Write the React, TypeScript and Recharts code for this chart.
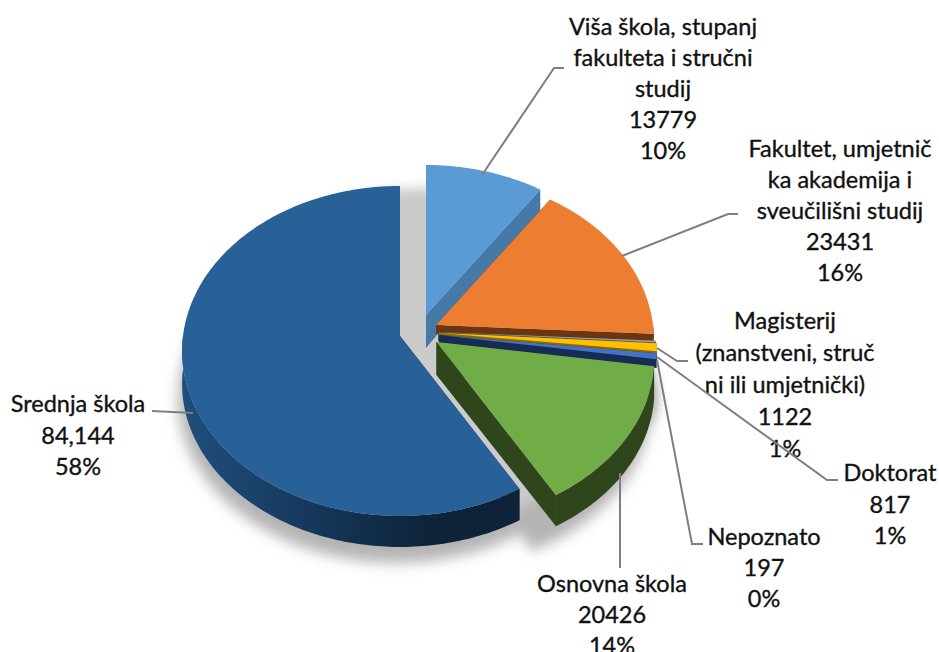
import React from "react";
import { PieChart, Pie } from "recharts";

const categories = [
  "Viša škola, stupanj fakulteta i stručni studij",
  "Fakultet, umjetničke akademija i sveučilišni studij",
  "Nepoznato",
  "Magisterij (znanstveni, stručni ili umjetnički)",
  "Doktorat",
  "Osnovna škola",
  "Srednja škola",
];
const values = [13779, 23431, 197, 1122, 817, 20426, 84144];
const valueLabels = ["13779", "23431", "197", "1122", "817", "20426", "84,144"];
const labelLines = [
  ["Viša škola, stupanj", "fakulteta i stručni", "studij"],
  ["Fakultet, umjetnič", "ka akademija i", "sveučilišni studij"],
  ["Nepoznato"],
  ["Magisterij", "(znanstveni, struč", "ni ili umjetnički)"],
  ["Doktorat"],
  ["Osnovna škola"],
  ["Srednja škola"],
];
const topColors = ["#5b9bd5", "#ed7d31", "#a5a5a5", "#ffc000", "#4472c4", "#70ad47", "#286198"];
const wallColors = ["#4579a8", "#6b3512", "#555555", "#8a6c00", "#172b55", "#2f451c", "url(#blueWall)"];

// layout: slice displacement from the pie centre, side depth, label centres, leader paths
const explode = [[6, -15], [16, -5], [18, 2], [19, 3], [19, 5], [16.5, 12], [-20, 6]];
const sideScale = [1, 0.27, 0.27, 0.27, 0.27, 1, 1];
const labelPos = [
  [663, 26], [840, 148], [764, 536], [785, 320], [890, 472], [612, 583], [78, 403],
];
const lineStep = [31, 31, 31, 32, 31.5, 31, 31.5];
const leaders = [
  [[482, 175], [554, 68], [564, 68]],
  [[622, 256], [728, 214], [738, 214]],
  [[657, 360], [692, 544], [703, 544]],
  [[657, 348], [677, 361], [688, 361]],
  [[657, 357], [827, 480], [838, 480]],
  [[620, 473], [620, 568]],
  [[193, 413], [152, 411]],
];

const CX = 420;
const CY = 330;
const RADIUS = 217;
const K = 163.6 / 217;
const P = 0.0909;

const project = (deg: number, r: number) => {
  const a = (deg * Math.PI) / 180;
  const u = Math.cos(a) * (r / RADIUS);
  const v = -Math.sin(a) * (r / RADIUS);
  const s = 1 / (1 - P * v);
  return { x: r ? RADIUS * u * s : 0, y: RADIUS * K * v * s, d: v < 0 ? 33 + 12 * v : 33 - 2 * v };
};

const arcPts = (from: number, to: number, r: number) => {
  const n = Math.max(2, Math.ceil(Math.abs(to - from)));
  const out = [];
  for (let i = 0; i <= n; i++) out.push(project(from + ((to - from) * i) / n, r));
  return out;
};

const toPath = (pts: { x: number; y: number }[], ox: number, oy: number) =>
  "M" + pts.map((p) => `${(p.x + ox).toFixed(2)},${(p.y + oy).toFixed(2)}`).join("L") + "Z";

const Slice3D = (props: any) => {
  const { cx, cy, outerRadius: r, startAngle, endAngle, index } = props;
  const ox = cx + explode[index][0];
  const oy = cy + explode[index][1];
  const arc = arcPts(startAngle, endAngle, r);
  const apex = { x: 0, y: 0, d: 33 };
  const down = (p: any) => ({ x: p.x, y: p.y + p.d * sideScale[index], d: 0 });
  const wall = wallColors[index];
  const radialWall = (p: any) => toPath([apex, p, down(p), down(apex)], ox, oy);
  // outer side: only the part of the rim that faces the viewer
  const rim = arc.filter((_: any, i: number) => {
    const deg = startAngle + ((endAngle - startAngle) * i) / (arc.length - 1);
    return Math.sin((deg * Math.PI) / 180) <= 0.02;
  });
  return (
    <g>
      <path d={radialWall(arc[0])} fill={wall} />
      <path d={radialWall(arc[arc.length - 1])} fill={wall} />
      {rim.length > 1 && <path d={toPath([...rim, ...rim.slice().reverse().map(down)], ox, oy)} fill={wall} />}
      <path d={toPath([apex, ...arc], ox, oy)} fill={topColors[index]} />
    </g>
  );
};

const ShadowSlice = (props: any) => {
  const { cx, cy, outerRadius: r, startAngle, endAngle, index } = props;
  const ox = cx + explode[index][0] - 4;
  const oy = cy + explode[index][1] + 22;
  const arc = arcPts(startAngle + 6, endAngle - 6, r).map((p: any) => ({ x: p.x, y: p.y + p.d * 0.8 }));
  return <path d={toPath([{ x: 0, y: 0 }, ...arc], ox, oy)} fill="#b4b4b4" filter="url(#soft)" />;
};

const CoreShadow = (props: any) => {
  const { cx, cy, outerRadius: r, startAngle, endAngle } = props;
  const blurred = arcPts(startAngle + 15, endAngle - 15, r);
  const solid = arcPts(startAngle + 1, endAngle - 1, r * 0.86);
  return (
    <g>
      <path d={toPath([{ x: 0, y: 0 }, ...blurred], cx, cy + 12)} fill="#cbcbcb" filter="url(#soft)" />
      <path d={toPath([{ x: 0, y: 0 }, ...solid], cx, cy + 14)} fill="#cbcbcb" />
    </g>
  );
};

const renderLabel = (props: any) => {
  const i = props.index;
  const [x, y] = labelPos[i];
  const step = lineStep[i];
  const rows = [...labelLines[i], valueLabels[i], `${Math.round((values[i] / total) * 100)}%`];
  return (
    <g key={i}>
      <polyline
        points={leaders[i].map((p) => p.join(",")).join(" ")}
        fill="none"
        stroke="#7f7f7f"
        strokeWidth={2}
      />
      {rows.map((t, k) => (
        <text
          key={k}
          x={x}
          y={y + k * step}
          textAnchor="middle"
          dominantBaseline="central"
          fontFamily="Lato, Carlito, sans-serif"
          fontSize={23.5}
          fill="#111111"
          stroke="#111111"
          strokeWidth={0.35}
        >
          {t}
        </text>
      ))}
    </g>
  );
};

const total = values.reduce((a, b) => a + b, 0);
const rows = categories.map((name, i) => ({ name, value: values[i] }));

export default function App() {
  const common = {
    data: rows,
    dataKey: "value",
    nameKey: "name",
    cx: CX,
    cy: CY,
    outerRadius: RADIUS,
    startAngle: 90,
    endAngle: -270,
    stroke: "none",
    isAnimationActive: false,
  };
  return (
    <div style={{ position: "absolute", left: 0, top: 0, width: 939, height: 652, background: "#fff" }}>
      <PieChart width={939} height={652} margin={{ top: 0, right: 0, bottom: 0, left: 0 }}>
        <defs>
          <linearGradient id="blueWall" gradientUnits="userSpaceOnUse" x1="185" y1="0" x2="430" y2="0">
            <stop offset="0" stopColor="#1f4e7c" />
            <stop offset="0.5" stopColor="#16385c" />
            <stop offset="1" stopColor="#0e2338" />
          </linearGradient>
          <filter id="soft" filterUnits="userSpaceOnUse" x="0" y="0" width="939" height="652">
            <feGaussianBlur stdDeviation="7" />
          </filter>
        </defs>
        <Pie {...common} shape={ShadowSlice} label={false} labelLine={false} />
        <Pie {...common} shape={CoreShadow} label={false} labelLine={false} />
        <Pie {...common} shape={Slice3D} label={renderLabel} labelLine={false} />
      </PieChart>
    </div>
  );
}
